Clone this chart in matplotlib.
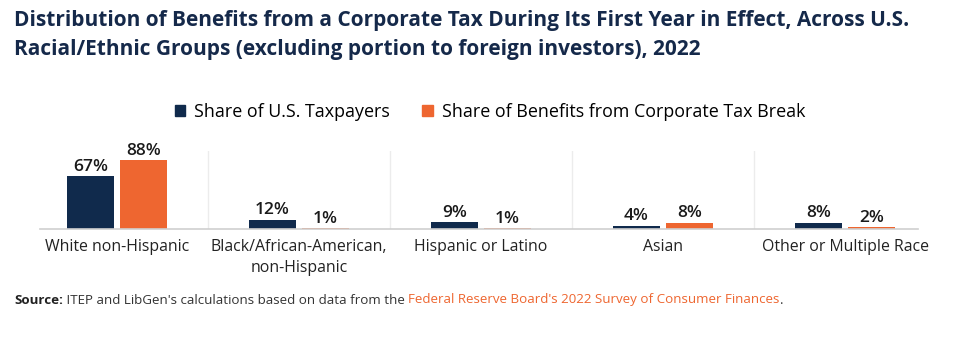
import matplotlib
matplotlib.use("Agg")
import matplotlib.pyplot as plt
import numpy as np

plt.rcParams['font.family'] = ['Open Sans', 'DejaVu Sans']

categories = ["White non-Hispanic", "Black/African-American,\nnon-Hispanic",
              "Hispanic or Latino", "Asian", "Other or Multiple Race"]
taxpayers = [67, 12, 9, 4, 8]
benefits = [88, 1, 1, 8, 2]
series_names = ["Share of U.S. Taxpayers", "Share of Benefits from Corporate Tax Break"]

navy = '#102a4c'
orange = '#ee6630'
title_color = '#15294a'

W, H = 967, 345
fig = plt.figure(figsize=(W / 100, H / 100), dpi=100)

# axes placed in pixel terms: baseline y=229, left 40, right 918
ax_left, ax_right = 40, 918
ax_bottom, ax_top = 229, 150.6
ax = fig.add_axes([ax_left / W, 1 - ax_bottom / H,
                   (ax_right - ax_left) / W, (ax_bottom - ax_top) / H])

x = np.arange(len(categories))
bw = 0.26
off = 0.146
b1 = ax.bar(x - off, taxpayers, bw, color=navy, zorder=3)
b2 = ax.bar(x + off, benefits, bw, color=orange, zorder=3)

for bars, vals in ((b1, taxpayers), (b2, benefits)):
    for r, v in zip(bars, vals):
        ax.annotate(f"{v}%", (r.get_x() + r.get_width() / 2, r.get_height()),
                    xytext=(0, 1), textcoords='offset points',
                    ha='center', va='bottom', fontsize=12.5, fontweight='semibold',
                    color='#1a1a1a')

for sep in x[:-1] + 0.5:
    ax.axvline(sep, color='#ececec', lw=1, zorder=1)

ax.set_xlim(-0.423, 4.401)
ax.set_ylim(0, 100)
ax.set_yticks([])
ax.set_xticks(x)
ax.set_xticklabels(categories, fontsize=11.4, color='#222222', linespacing=1.45)
ax.tick_params(axis='x', length=0, pad=7)
for s in ('top', 'right', 'left'):
    ax.spines[s].set_visible(False)
ax.spines['bottom'].set_color('#cfcfcf')
ax.spines['bottom'].set_linewidth(1.2)
ax.spines['bottom'].set_zorder(4)

# title
fig.text(14 / W, 1 - 10 / H,
         "Distribution of Benefits from a Corporate Tax During Its First Year in Effect, Across U.S.\n"
         "Racial/Ethnic Groups (excluding portion to foreign investors), 2022",
         ha='left', va='top', fontsize=15, fontweight='bold', color=title_color,
         linespacing=1.5)

# legend
handles = [plt.Rectangle((0, 0), 1, 1, color=navy), plt.Rectangle((0, 0), 1, 1, color=orange)]
fig.legend(handles, series_names, loc='center', bbox_to_anchor=(490 / W, 1 - 112 / H),
           ncol=2, frameon=False, fontsize=12.9, handlelength=0.6, handleheight=0.6,
           handletextpad=0.5, columnspacing=1.8)

# source line with mixed styling
fig.canvas.draw()
renderer = fig.canvas.get_renderer()
parts = [("Source:", 'bold', '#222222'),
         (" ITEP and LibGen's calculations based on data from the ", 'normal', '#333333'),
         ("Federal Reserve Board's 2022 Survey of Consumer Finances", 'normal', orange),
         (".", 'normal', '#333333')]
xpos = 14
for txt, wt, col in parts:
    t = fig.text(xpos / W, 1 - 300 / H, txt, ha='left', va='center', fontsize=9.6,
                 fontweight=wt, color=col)
    bb = t.get_window_extent(renderer)
    xpos += bb.width

fig.savefig("out.png", dpi=100, facecolor='white')
